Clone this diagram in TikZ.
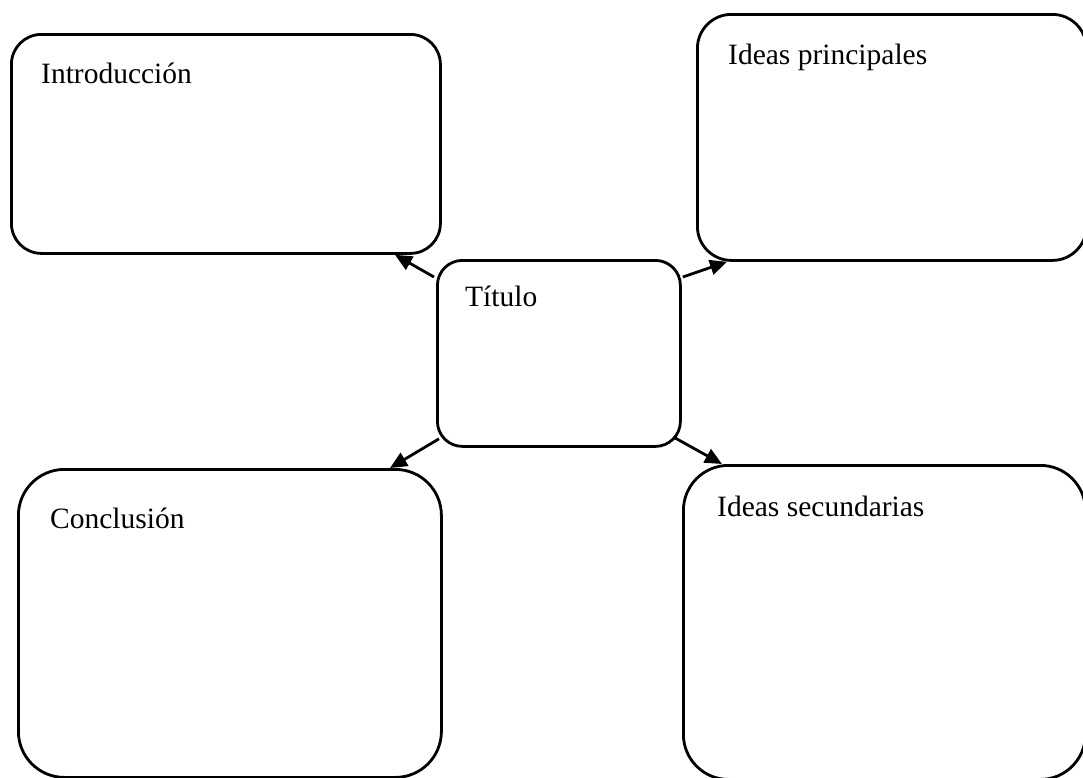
\documentclass[tikz,border=0pt]{standalone}
\usepackage{fontspec}
\setmainfont{Liberation Serif}
\usetikzlibrary{calc,arrows.meta}
\begin{document}
\begin{tikzpicture}[x=1pt,y=-1pt,
  box/.style={draw=black,line width=2.8pt,inner sep=0pt,anchor=north west},
  lbl/.style={inner sep=0pt,anchor=base west,font=\fontsize{29.5}{32}\selectfont},
  arr/.style={line width=2.8pt,-{Triangle[length=17pt,width=15pt]}}]
\useasboundingbox (0,0) rectangle (1083,777);
\clip (0,0) rectangle (1083,777);
\node[box,rounded corners=30pt,minimum width=429pt,minimum height=219pt] (intro) at (10,33) {};
\node[box,rounded corners=34pt,minimum width=389pt,minimum height=246pt] (princ) at (696,13) {};
\node[box,rounded corners=25pt,minimum width=243pt,minimum height=186pt] (tit) at (436,259) {};
\node[box,rounded corners=46pt,minimum width=423pt,minimum height=308pt] (concl) at (17,468) {};
\node[box,rounded corners=45pt,minimum width=402pt,minimum height=314pt] (sec) at (682,464) {};
\node[lbl] (tintro) at (41,83) {Introducción};
\node[lbl] (tprinc) at (728,64) {Ideas principales};
\node[lbl] (ttit) at (465,306) {Título};
\node[lbl] (tconcl) at (50,528) {Conclusión};
\node[lbl] (tsec) at (717,516) {Ideas secundarias};
\draw[arr] ($(tit.north west)+(-2,18)$) -- ($(intro.south west)+(385,0)$);
\draw[arr] ($(tit.north east)+(1,18)$) -- ($(princ.south west)+(31,0)$);
\draw[arr] ($(tit.south west)+(3,-9)$) -- ($(concl.north west)+(373,0)$);
\draw[arr] ($(tit.south east)+(-7,-10)$) -- ($(sec.north west)+(40,0)$);
\end{tikzpicture}
\end{document}
